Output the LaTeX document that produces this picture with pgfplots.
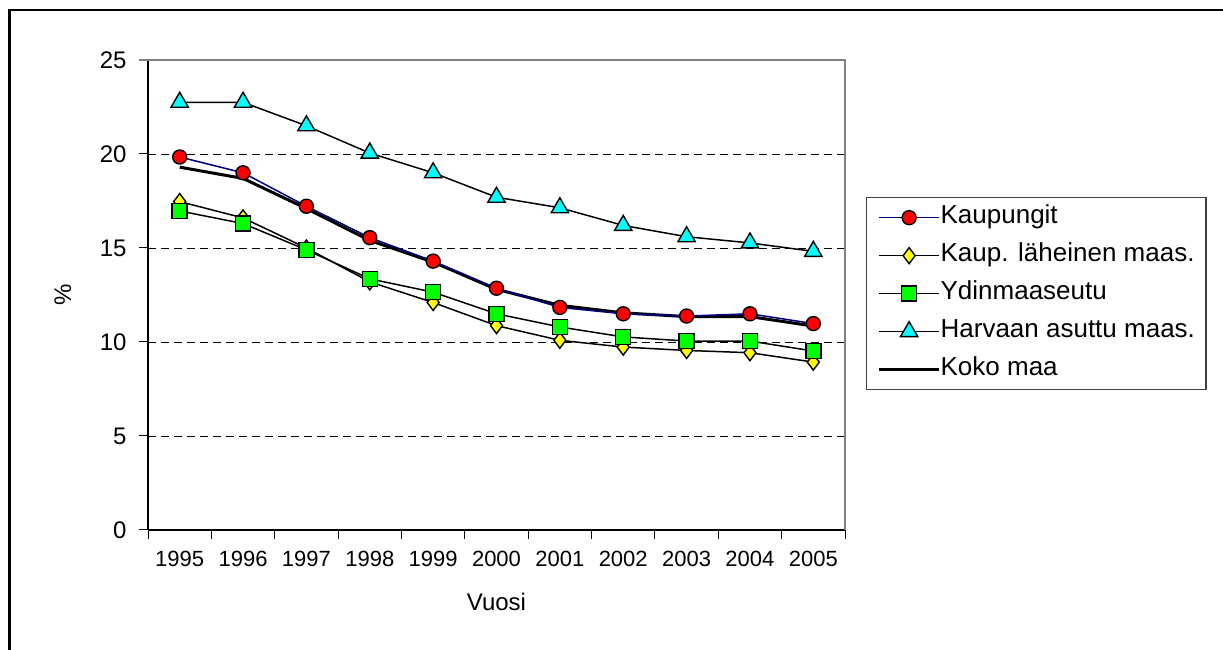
\documentclass[border=0pt]{standalone}
\usepackage{fontspec}
\setmainfont{Liberation Sans}
\usepackage{pgfplots}
\pgfplotsset{compat=1.18}
\definecolor{exnavy}{HTML}{000080}
\definecolor{exred}{HTML}{FF0000}
\definecolor{exyellow}{HTML}{FFFF00}
\definecolor{exgreen}{HTML}{00FF00}
\definecolor{excyan}{HTML}{00FFFF}
\begin{document}
\begin{tikzpicture}[x=1pt,y=1pt]
\useasboundingbox (0,0) rectangle (1223,650);
% outer chart frame (right and bottom edge fall outside the picture)
\draw[line width=2.5pt] (9.5,-20) -- (9.5,640) -- (1240,640);
\begin{axis}[
  at={(148pt,120pt)}, anchor=south west,
  scale only axis, width=697pt, height=470pt,
  xmin=-0.5, xmax=10.5, ymin=0, ymax=25,
  clip=false,
  axis x line*=bottom, axis y line*=left,
  axis line style={black, line width=1.2pt, -},
  xtick={-0.5,0.5,...,10.5}, x tick label as interval,
  xticklabels={1995,1996,1997,1998,1999,2000,2001,2002,2003,2004,2005},
  ytick={0,5,...,25},
  tick align=outside, major tick length=9pt,
  tick style={black, line width=1pt},
  /pgf/number format/assume math mode=true,
  xticklabel style={font=\fontsize{22}{22}\selectfont, yshift=-9pt},
  yticklabel style={font=\fontsize{24}{24}\selectfont, xshift=-9pt},
  ymajorgrids,
  grid style={black, line width=0.9pt, dash pattern=on 8pt off 5pt},
  xlabel={Vuosi}, ylabel={\%},
  label style={font=\fontsize{24}{24}\selectfont},
  xlabel style={at={(axis description cs:0.5,-0.1532)}, anchor=center},
  ylabel style={at={(axis description cs:-0.122,0.5)}, anchor=center},
  legend style={at={(1.0301,0.7085)}, anchor=north west,
    draw=darkgray, line width=1.3pt,
    font=\fontsize{26}{26}\selectfont,
    inner xsep=11pt, inner ysep=8pt, row sep=14pt,
    nodes={inner sep=0pt, text height=18pt, text depth=6pt}},
  legend cell align=left,
  /tikz/every even column/.append style={column sep=7pt},
  legend image code/.code={\draw[mark repeat=2,mark phase=2,#1]
    plot coordinates {(0pt,0pt) (30pt,0pt) (60pt,0pt)};},
]
% Koko maa first so that the markers lie over it
\addplot[black, line width=3pt, mark=none, forget plot] coordinates {
  (0,19.3) (1,18.7) (2,17.1) (3,15.4) (4,14.25) (5,12.8)
  (6,11.95) (7,11.55) (8,11.35) (9,11.35) (10,10.85)};
\addplot[exnavy, line width=1.5pt, mark=*, mark size=7pt,
  mark options={solid, draw=black, fill=exred, line width=1.4pt}] coordinates {
  (0,19.84) (1,19.0) (2,17.22) (3,15.55) (4,14.3) (5,12.86)
  (6,11.84) (7,11.5) (8,11.38) (9,11.5) (10,10.98)};
\addlegendentry{Kaupungit}
\addplot[black, line width=1.5pt, mark=diamond*, mark size=8pt,
  mark options={solid, draw=black, fill=exyellow, line width=1.4pt}] coordinates {
  (0,17.47) (1,16.6) (2,15.0) (3,13.2) (4,12.1) (5,10.87)
  (6,10.09) (7,9.73) (8,9.55) (9,9.43) (10,8.93)};
\addlegendentry{Kaup. läheinen maas.}
\addplot[black, line width=1.5pt, mark=square*, mark size=7.5pt,
  mark options={solid, draw=black, fill=exgreen, line width=1.4pt}] coordinates {
  (0,16.97) (1,16.3) (2,14.9) (3,13.36) (4,12.65) (5,11.5)
  (6,10.8) (7,10.27) (8,10.05) (9,10.05) (10,9.52)};
\addlegendentry{Ydinmaaseutu}
\addplot[black, line width=1.5pt, mark=triangle*, mark size=10pt,
  mark options={solid, draw=black, fill=excyan, line width=1.4pt}] coordinates {
  (0,22.75) (1,22.75) (2,21.5) (3,20.05) (4,19.0) (5,17.7)
  (6,17.14) (7,16.2) (8,15.6) (9,15.27) (10,14.82)};
\addlegendentry{Harvaan asuttu maas.}
\addlegendimage{black, line width=3pt, mark=none}
\addlegendentry{Koko maa}
% plot area border on top and right
\draw[gray, line width=1.5pt] ([xshift=-9pt]rel axis cs:0,1) -- (rel axis cs:1,1) -- (rel axis cs:1,0);
\end{axis}
\end{tikzpicture}
\end{document}
